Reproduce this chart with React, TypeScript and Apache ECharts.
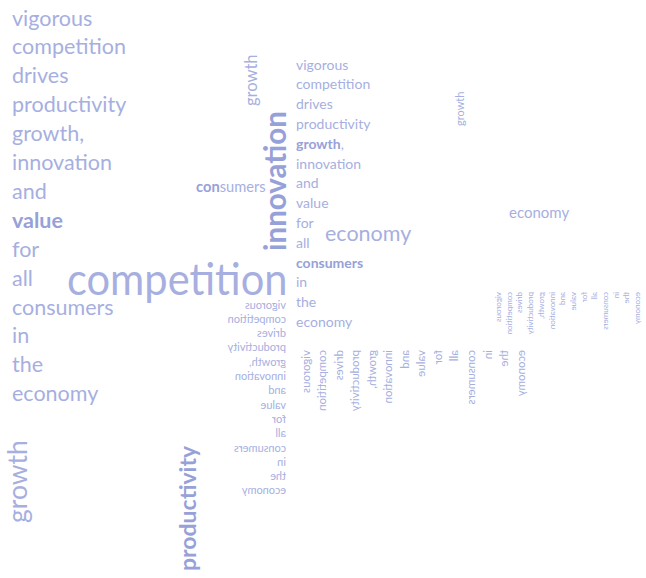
import React, { useEffect, useRef } from "react";
import * as echarts from "echarts";

// ---- Data (words) ----
const phraseWords: string[] = [
  "vigorous", "competition", "drives", "productivity", "growth,", "innovation",
  "and", "value", "for", "all", "consumers", "in", "the", "economy",
];
const heroWord = "competition";
const verticalHero = "innovation";
const smallGrowth = "growth";
const looseConsumers = ["con", "sumers"];
const looseEconomy = "economy";
const bottomWords = ["growth", "productivity"];
// indices (into phraseWords) rendered in bold, per block
const leftBold = [7];
const midBold = [4, 10];

const FONT = "Lato";
const C = "#a6afdf";
const CB = "#97a1d9";

type El = any;

function txt(text: string, x: number, y: number, size: number, o: any = {}): El {
  return {
    type: "text",
    x,
    y,
    rotation: o.rotation || 0,
    scaleX: o.scaleX ?? 1,
    scaleY: o.scaleY ?? 1,
    silent: true,
    style: {
      text,
      x: 0,
      y: 0,
      fontFamily: FONT,
      fontSize: size,
      fontWeight: o.bold ? "bold" : "normal",
      fill: o.fill || (o.bold ? CB : C),
      align: "left",
      verticalAlign: "middle",
      textAlign: "left",
      textVerticalAlign: "middle",
      rich: o.rich,
    },
  };
}

function buildGraphic(): El[] {
  const els: El[] = [];
  // left column
  phraseWords.forEach((w, i) => {
    els.push(txt(w, 12, 17.5 + i * 28.9, 21.5, { bold: leftBold.includes(i) }));
  });
  // middle column
  phraseWords.forEach((w, i) => {
    const y = 64 + i * 19.8;
    if (midBold.includes(i)) {
      const core = w.replace(/,$/, "");
      const tail = w.endsWith(",") ? "," : "";
      els.push(
        txt(`{b|${core}}${tail}`, 296, y, 14, {
          rich: { b: { fontFamily: FONT, fontSize: 14, fontWeight: "bold", fill: CB } },
        })
      );
    } else {
      els.push(txt(w, 296, y, 14));
    }
  });
  // mirrored column (flipped horizontally)
  phraseWords.forEach((w, i) => {
    els.push(txt(w, 286, 304 + i * 14.3, 11, { scaleX: -1 }));
  });
  // vertical mirrored block (big)
  phraseWords.forEach((w, i) => {
    els.push(txt(w, 305 + i * 16.55, 350, 11.5, { rotation: -Math.PI / 2, scaleY: -1 }));
  });
  // vertical mirrored block (small)
  phraseWords.forEach((w, i) => {
    els.push(txt(w, 498 + i * 10.7, 292, 8, { rotation: -Math.PI / 2, scaleY: -1 }));
  });
  // hero word
  els.push(txt(heroWord, 67, 277, 45, { scaleX: 0.925 }));
  // vertical innovation
  els.push(txt(verticalHero, 274, 251, 29.5, { rotation: Math.PI / 2, bold: true }));
  // vertical growth (upper)
  els.push(txt(smallGrowth, 251, 106, 16.5, { rotation: Math.PI / 2 }));
  // vertical growth small right
  els.push(txt(smallGrowth, 459, 126, 11, { rotation: Math.PI / 2 }));
  // consumers loose
  els.push(
    txt(`{b|${looseConsumers[0]}}${looseConsumers[1]}`, 196, 186, 14.7, {
      rich: { b: { fontFamily: FONT, fontSize: 14.7, fontWeight: "bold", fill: CB } },
    })
  );
  // economy medium and small
  els.push(txt(looseEconomy, 325, 233, 21.5));
  els.push(txt(looseEconomy, 509, 212, 15));
  // bottom vertical words
  els.push(txt(bottomWords[0], 17, 523, 26.5, { rotation: Math.PI / 2 }));
  els.push(txt(bottomWords[1], 187, 571, 23, { rotation: Math.PI / 2, bold: true }));
  return els;
}

export default function App() {
  const ref = useRef<HTMLDivElement>(null);
  useEffect(() => {
    document.body.style.margin = "0";
    const chart = echarts.init(ref.current!, undefined, { renderer: "svg" });
    chart.setOption({
      animation: false,
      backgroundColor: "#ffffff",
      graphic: { elements: buildGraphic() },
    });
    return () => chart.dispose();
  }, []);
  return <div ref={ref} style={{ width: 646, height: 578 }} />;
}
